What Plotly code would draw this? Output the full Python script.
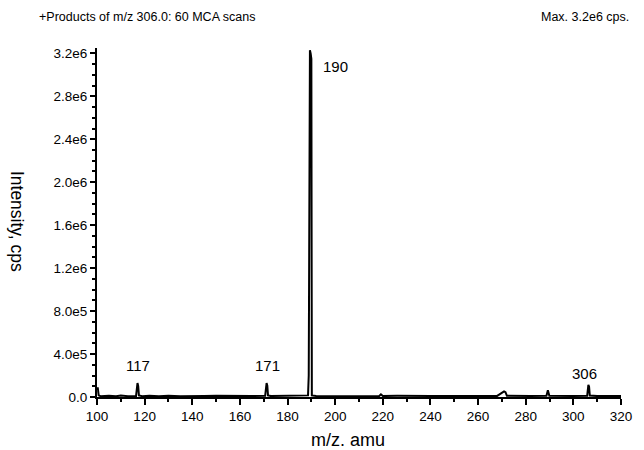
import plotly.graph_objects as go

# m/z (amu) and intensity (cps)
mz = [100.0, 100.3, 100.7, 101.5, 105, 108, 110, 113, 116.4, 117.0, 117.3, 117.6, 119, 122, 126,
      130, 135, 140, 145, 150, 155, 160, 165, 170.6, 171.2, 171.5, 171.8, 173, 178, 183, 187,
      188.6, 188.9, 189.2, 189.4, 189.7, 190.0, 190.2, 192, 198, 205, 212, 218.5, 219.2, 220,
      226, 232, 240, 248, 255, 262, 268, 270.9, 271.5, 272.1, 275, 282, 288.7, 289.3,
      289.9, 295, 300, 305.8, 306.3, 306.6, 306.9, 310, 315, 320]
intensity = [60000, 90000, 15000, 8000, 11000, 7000, 13000, 8000, 10000, 130000, 100000, 15000,
             8000, 12000, 7000, 11000, 8000, 12000, 9000, 11000, 8000, 12000, 9000,
             11000, 130000, 105000, 15000, 9000, 12000, 8000, 11000, 15000, 200000, 3230000,
             3230000, 3200000, 3150000, 15000, 10000, 8000, 11000, 9000, 10000, 25000, 9000,
             11000, 8000, 10000, 9000, 11000, 8000, 10000, 52000, 45000, 11000, 9000,
             10000, 11000, 62000, 12000, 9000, 10000, 11000, 112000, 95000, 14000, 9000,
             10000, 9000]

peak_labels = ["117", "171", "190", "306"]
peak_x = [117.4, 171.7, 200.2, 304.6]
peak_y = [298000, 298000, 3080000, 223000]

y_ticks = [0, 400000, 800000, 1200000, 1600000, 2000000, 2400000, 2800000, 3200000]
y_tick_text = ["0.0", "4.0e5", "8.0e5", "1.2e6", "1.6e6", "2.0e6", "2.4e6", "2.8e6", "3.2e6"]
x_ticks = list(range(100, 321, 20))

L, R, T, B = 97, 16, 48, 53
W, H = 644, 450
PW, PH = W - L - R, H - T - B


def px(x):
    return (x - L) / PW


def py(y):
    return (H - B - y) / PH


fig = go.Figure()
fig.add_trace(go.Scatter(x=mz, y=intensity, mode="lines",
                         line=dict(color="black", width=2), hoverinfo="skip"))

for t, x, y in zip(peak_labels, peak_x, peak_y):
    fig.add_annotation(x=x, y=y, text=t, showarrow=False, yanchor="middle",
                       font=dict(size=15, color="black"))

font = "Liberation Sans, Arial, sans-serif"
fig.update_layout(
    width=W, height=H,
    margin=dict(l=L, r=R, t=T, b=B),
    paper_bgcolor="white", plot_bgcolor="white",
    showlegend=False,
    font=dict(family=font, color="black", size=13.5),
    xaxis=dict(range=[100, 320], tickvals=x_ticks, ticks="outside", ticklen=6,
               tickwidth=1.5, tickcolor="black", showline=True, linecolor="black",
               linewidth=2, showgrid=False, zeroline=False,
               minor=dict(dtick=10, ticks="outside", ticklen=3, tickcolor="black"),
               tickfont=dict(size=13.5, color="black")),
    yaxis=dict(range=[0, 3250000], tickvals=y_ticks, ticktext=y_tick_text,
               ticks="outside", ticklen=5, tickwidth=1.5, tickcolor="black",
               showline=True, linecolor="black", linewidth=2, showgrid=False,
               zeroline=False,
               minor=dict(dtick=100000, ticks="outside", ticklen=3, tickcolor="black"),
               tickfont=dict(size=13.5, color="black")),
)

fig.add_annotation(xref="paper", yref="paper", x=px(351), y=py(440), xanchor="center",
                   yanchor="middle", text="m/z. amu", showarrow=False,
                   font=dict(size=18, color="black"))
fig.add_annotation(xref="paper", yref="paper", x=px(16), y=py(221), xanchor="center",
                   yanchor="middle", text="Intensity, cps", textangle=90, showarrow=False,
                   font=dict(size=17.5, color="black"))
fig.add_annotation(xref="paper", yref="paper", x=px(36), y=py(17), xanchor="left",
                   yanchor="middle", text="+Products of m/z 306.0: 60 MCA scans",
                   showarrow=False, font=dict(size=12.5, color="black"))
fig.add_annotation(xref="paper", yref="paper", x=px(638), y=py(17), xanchor="right",
                   yanchor="middle", text="Max. 3.2e6 cps.", showarrow=False,
                   font=dict(size=12.5, color="black"))

fig.write_html("out.html", config={"displayModeBar": False},
               post_script="document.body.style.margin='0px';")
